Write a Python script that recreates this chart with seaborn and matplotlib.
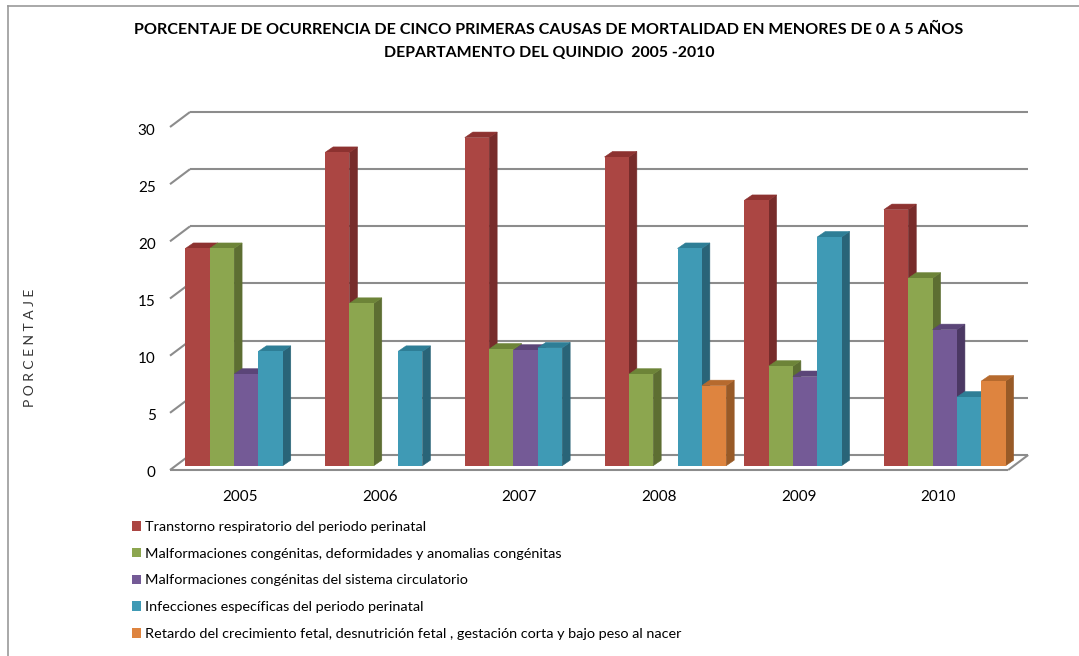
import numpy as np
import pandas as pd
import matplotlib.pyplot as plt
import seaborn as sns
from matplotlib.patches import Polygon

years = ['2005', '2006', '2007', '2008', '2009', '2010']
causes = ['Transtorno respiratorio del periodo perinatal',
          'Malformaciones congénitas, deformidades y anomalias congénitas',
          'Malformaciones congénitas del sistema circulatorio',
          'Infecciones específicas del periodo perinatal',
          'Retardo del crecimiento fetal, desnutrición fetal , gestación corta y bajo peso al nacer']
transtorno = [19, 27.4, 28.7, 27, 23.2, 22.4]
malformaciones = [19, 14.2, 10.2, 8, 8.7, 16.4]
circulatorio = [8, np.nan, 10.1, np.nan, 7.8, 11.9]
infecciones = [10, 10, 10.3, 19, 20, 6]
retardo = [np.nan, np.nan, np.nan, 7, np.nan, 7.4]
y_ticks = [0, 5, 10, 15, 20, 25, 30]

front = ['#AB4643', '#8CA64F', '#745A96', '#3F9AB5', '#DE843F']
side = ['#772C2B', '#5D6E32', '#4B3863', '#296478', '#985A27']
top = ['#8D3230', '#6D8438', '#5B4578', '#2E7E96', '#B66A2E']

W, H = 1079, 656
plt.rcParams['font.family'] = ['Lato', 'DejaVu Sans']

df = pd.DataFrame({'year': years * 5,
                   'cause': np.repeat(causes, 6),
                   'value': transtorno + malformaciones + circulatorio + infecciones + retardo})

px_x = 139.7   # px per category
px_y = 11.43   # px per value unit
y_low = -1     # room under the bars so the 0 tick label survives

fig = plt.figure(figsize=(W / 100, H / 100), dpi=100)
# axes = plane of the bar fronts
ax = fig.add_axes([176.4 / W, 1 - (465.7 - y_low * px_y) / H, 838.2 / W, (343 - y_low * px_y) / H])
sns.barplot(data=df, x='year', y='value', hue='cause', hue_order=causes, palette=front,
            width=0.871, gap=0, saturation=1, ax=ax, linewidth=0, errorbar=None)
ax.set_xlabel('')
ax.set_ylabel('')
for s in ax.spines.values():
    s.set_visible(False)

depth_x, depth_y = 8 / px_x, 5.5 / px_y
back_x, back_y = 13.6 / px_x, 10.7 / px_y
front_x, front_y = -6.4 / px_x, -4.3 / px_y

# walls and floor
grid = dict(color='#8c8c8c', lw=1.5, clip_on=False, zorder=1, solid_capstyle='butt')
for v in y_ticks:
    ax.plot([-0.5 + back_x, 5.5 + back_x], [v + back_y, v + back_y], **grid)
    ax.plot([-0.5 + front_x, -0.5 + back_x], [v + front_y, v + back_y], **grid)
ax.plot([-0.5 + front_x, 5.5 + front_x], [front_y, front_y], **grid)
ax.plot([5.5 + front_x, 5.5 + back_x], [front_y, back_y], **grid)

# side and top faces worked out from the bars seaborn drew
for i, cont in enumerate(ax.containers):
    for bar in cont:
        x, w, h = bar.get_x(), bar.get_width(), bar.get_height()
        if np.isnan(h) or h == 0:
            continue
        z = 3 + x
        bar.set_zorder(z + 0.02)
        ax.add_patch(Polygon([(x + w, 0), (x + w + depth_x, depth_y), (x + w + depth_x, h + depth_y), (x + w, h)],
                             facecolor=side[i], edgecolor=side[i], lw=0.4, zorder=z, clip_on=False))
        ax.add_patch(Polygon([(x, h), (x + w, h), (x + w + depth_x, h + depth_y), (x + depth_x, h + depth_y)],
                             facecolor=top[i], edgecolor=top[i], lw=0.4, zorder=z + 0.01, clip_on=False))

ax.set_xlim(-0.5, 5.5)
ax.set_ylim(y_low, 30)
ax.set_xticks(np.arange(6) + front_x, years)
ax.set_yticks(np.array(y_ticks) + front_y - 2 / px_y, y_ticks)
ax.tick_params(axis='both', length=0, labelsize=11, colors='black')
ax.tick_params(axis='x', pad=9)
ax.tick_params(axis='y', pad=15)

handles = [c[0] for c in ax.containers]
leg = ax.legend(handles, causes, loc='upper left', bbox_to_anchor=(132 / W, 1 - 521 / H),
                bbox_transform=fig.transFigure, frameon=False, fontsize=10.4,
                handlelength=0.62, handleheight=0.62, handletextpad=0.28, labelspacing=1.02,
                borderpad=0, borderaxespad=0)

fig.text(549 / W, 1 - 30 / H, 'PORCENTAJE DE OCURRENCIA DE CINCO PRIMERAS CAUSAS DE MORTALIDAD EN MENORES DE 0 A 5 AÑOS',
         ha='center', va='center', fontsize=11.6, fontweight='bold')
fig.text(549 / W, 1 - 53 / H, 'DEPARTAMENTO DEL QUINDIO  2005 -2010',
         ha='center', va='center', fontsize=11.4, fontweight='bold')
fig.text(30 / W, 1 - 348 / H, 'P O R C E N T A J E', rotation=90, ha='center', va='center',
         fontsize=10, color='#333333')

# slide frame, only left and top show
fig.add_artist(plt.Line2D([7.5 / W, 7.5 / W], [0, 1 - 6 / H], color='#999999', lw=1.2))
fig.add_artist(plt.Line2D([7.5 / W, 1], [1 - 6 / H, 1 - 6 / H], color='#999999', lw=1.2))

fig.savefig('out.png', dpi=100)
